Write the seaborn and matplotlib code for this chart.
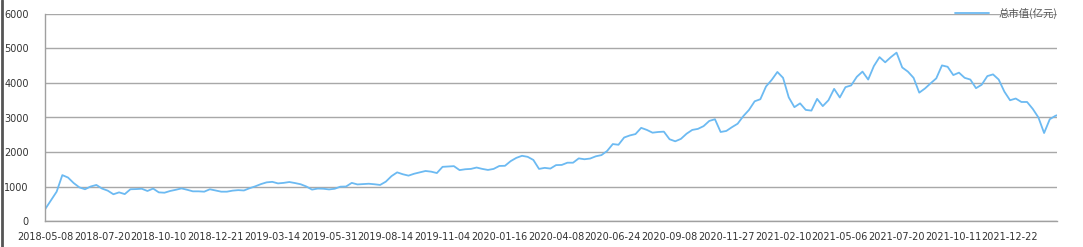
import numpy as np
import pandas as pd
import seaborn as sns
import matplotlib
matplotlib.use("Agg")
import matplotlib.pyplot as plt
from matplotlib.ticker import MultipleLocator
from matplotlib.lines import Line2D

sns.set_style("white")
plt.rcParams['font.family'] = ['DejaVu Sans']

# total market value (亿元), sampled every 5 trading days
values = [
    350, 600, 850, 1330, 1260, 1100, 975, 920, 1000, 1045,
    940, 880, 775, 830, 780, 920, 925, 935, 870, 940,
    830, 820, 870, 905, 945, 905, 860, 860, 850, 920,
    885, 850, 850, 880, 895, 885, 950, 1005, 1070, 1120,
    1135, 1090, 1105, 1130, 1100, 1065, 1000, 910, 940, 935,
    915, 935, 995, 1000, 1105, 1060, 1070, 1080, 1065, 1045,
    1140, 1300, 1410, 1355, 1315, 1370, 1410, 1450, 1430, 1390,
    1570, 1580, 1590, 1475, 1500, 1510, 1550, 1510, 1480, 1510,
    1595, 1600, 1735, 1830, 1890, 1860, 1770, 1510, 1540, 1520,
    1620, 1625, 1690, 1690, 1815, 1790, 1810, 1875, 1910, 2030,
    2230, 2210, 2420, 2480, 2520, 2700, 2640, 2560, 2580, 2590,
    2370, 2310, 2380, 2530, 2640, 2670, 2750, 2900, 2950, 2580,
    2610, 2720, 2820, 3040, 3220, 3470, 3530, 3900, 4090, 4320,
    4150, 3585, 3300, 3410, 3220, 3200, 3540, 3330, 3500, 3830,
    3580, 3880, 3930, 4180, 4330, 4100, 4490, 4750, 4600, 4750,
    4880, 4450, 4330, 4150, 3720, 3840, 3990, 4135, 4510, 4470,
    4230, 4300, 4150, 4100, 3850, 3950, 4200, 4250, 4100, 3750,
    3500, 3550, 3450, 3450, 3250, 3000, 2550, 2950, 3050, 3100,
]
tick_labels = [
    "2018-05-08", "2018-07-20", "2018-10-10", "2018-12-21", "2019-03-14",
    "2019-05-31", "2019-08-14", "2019-11-04", "2020-01-16", "2020-04-08",
    "2020-06-24", "2020-09-08", "2020-11-27", "2021-02-10", "2021-05-06",
    "2021-07-20", "2021-10-11", "2021-12-22",
]
series_name = "总市值(亿元)"

df = pd.DataFrame({"idx": np.arange(len(values)), "value": values})

fig = plt.figure(figsize=(10.83, 2.47), dpi=100)
ax = fig.add_axes([45.3 / 1083, 1 - 221 / 247, (1057 - 45.3) / 1083, (221 - 14) / 247])

sns.lineplot(data=df, x="idx", y="value", ax=ax, color="#6cbaf2", linewidth=1.3, label=series_name)

ax.set_xlim(0, (1057 - 45.3) / 5.675)
ax.set_ylim(0, 6000)
ax.set_xlabel("")
ax.set_ylabel("")

ax.set_xticks(np.arange(len(tick_labels)) * 10)
ax.set_xticklabels(tick_labels)
ax.xaxis.set_minor_locator(MultipleLocator(1))
ax.yaxis.set_major_locator(MultipleLocator(1000))
ax.yaxis.set_minor_locator(MultipleLocator(200))

ax.grid(axis="y", which="major", color="#a8a8a8", linewidth=1.0)
for s in ["top", "right"]:
    ax.spines[s].set_visible(False)
for s in ["left", "bottom"]:
    ax.spines[s].set_color("#a0a0a0")
    ax.spines[s].set_linewidth(1.0)

ax.tick_params(axis="both", which="major", length=4, width=1, color="#a0a0a0",
               labelsize=7, labelcolor="#333333", pad=4)
ax.tick_params(axis="both", which="minor", length=2.5, width=1, color="#a0a0a0")
ax.tick_params(axis="y", which="major", pad=8)

leg = ax.legend(loc="upper right", bbox_to_anchor=(1.0, 1.03), frameon=False,
                handlelength=3.2, handletextpad=0.9, borderaxespad=0, borderpad=0,
                prop={"family": ["Noto Sans CJK SC", "DejaVu Sans"], "size": 7.5})
for t in leg.get_texts():
    t.set_color("#555555")

fig.add_artist(Line2D([1.5 / 1083, 1.5 / 1083], [0, 1], transform=fig.transFigure,
                      color="#555555", linewidth=2))

fig.savefig("out.png", dpi=100)
